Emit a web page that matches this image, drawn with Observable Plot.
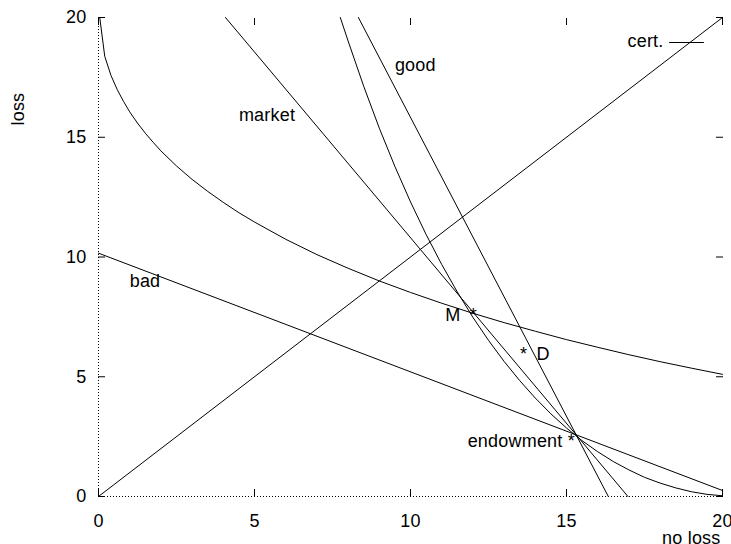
<!DOCTYPE html>
<html>
<head>
<meta charset="utf-8">
<script src="https://cdn.jsdelivr.net/npm/d3@7"></script>
<script src="https://cdn.jsdelivr.net/npm/@observablehq/plot@0.6"></script>
<style>
  body { margin: 0; background: #fff; }
  #chart svg { background: #fff; }
</style>
</head>
<body>
<div id="chart"></div>
<script>
// ---- data ----
const xTicks = [0, 5, 10, 15, 20];
const yTicks = [0, 5, 10, 15, 20];

// straight lines (end points)
const certX = [0, 20],         certY = [0, 20];
const badX = [0, 20],          badY = [10.16, 0.25];
const marketX = [4.07, 16.97], marketY = [20, 0];
const goodX = [8.33, 16.34],   goodY = [20, 0];

// indifference curve through M
const indifMX = [0.04, 0.2, 0.4, 0.6, 0.8, 1, 1.25, 1.5, 1.75, 2, 2.5, 3, 3.5, 4, 4.5, 5, 6, 7, 8, 9, 10, 11, 12, 13, 14, 15, 16, 17, 18, 19, 20];
const indifMY = [20.0, 18.38, 17.58, 16.99, 16.50, 16.06, 15.59, 15.17, 14.79, 14.43, 13.80, 13.24, 12.74, 12.28, 11.85, 11.46, 10.74, 10.10, 9.53, 9.00, 8.52, 8.07, 7.65, 7.26, 6.90, 6.55, 6.23, 5.92, 5.63, 5.36, 5.10];

// curve through the endowment
const indifEX = [7.75, 8, 8.5, 9, 9.5, 10, 10.5, 11, 11.5, 12, 12.5, 13, 13.5, 14, 14.5, 15, 15.5, 16, 16.5, 17, 17.5, 18, 18.5, 19, 19.5, 20];
const indifEY = [20.0, 19.02, 17.13, 15.38, 13.78, 12.30, 10.94, 9.69, 8.54, 7.48, 6.52, 5.64, 4.84, 4.11, 3.45, 2.86, 2.33, 1.87, 1.46, 1.11, 0.80, 0.56, 0.36, 0.20, 0.09, 0.03];

// annotations
const labelText  = ["market", "good", "bad", "M\u2002*", "*\u2002D", "endowment *"];
const labelX     = [4.5, 9.5, 1.0, 12.13, 13.51, 15.27];
const labelY     = [15.90, 18.02, 8.98, 7.56, 5.95, 2.30];
const labelAlign = ["start", "start", "start", "end", "start", "end"];

const keyLabel = "cert.";
const xLabel = "no loss";
const yLabel = "loss";

// ---- build tables ----
const series = [
  {name: "cert.", xs: certX, ys: certY},
  {name: "bad", xs: badX, ys: badY},
  {name: "market", xs: marketX, ys: marketY},
  {name: "good", xs: goodX, ys: goodY},
  {name: "indifM", xs: indifMX, ys: indifMY},
  {name: "indifE", xs: indifEX, ys: indifEY}
];
const lineData = series.flatMap(s => s.xs.map((x, i) => ({name: s.name, x, y: s.ys[i]})));
const labels = labelText.map((t, i) => ({text: t, x: labelX[i], y: labelY[i], align: labelAlign[i]}));

const font = "'Liberation Sans', Arial, Helvetica, sans-serif";
const blankFmt = () => "";
const lineShape = {draw(ctx, l) { ctx.moveTo(0, 0); ctx.lineTo(0, -l); }};

const chart = Plot.plot({
  width: 731,
  height: 544,
  marginLeft: 98,
  marginRight: 9,
  marginTop: 17,
  marginBottom: 48,
  style: {fontFamily: font, fontSize: "18px", letterSpacing: "0.2px", background: "#fff", color: "#000"},
  x: {domain: [0, 20], label: null},
  y: {domain: [0, 20], label: null},
  marks: [
    // dotted zero axes
    Plot.ruleX([0], {stroke: "#000", strokeDasharray: "1,2"}),
    Plot.ruleY([0], {stroke: "#000", strokeDasharray: "1,2"}),
    // axes with inward ticks
    Plot.axisX(xTicks, {anchor: "bottom", tickSize: -7, tickPadding: 25, label: null}),
    Plot.axisX(xTicks, {anchor: "top", tickSize: -7, tickFormat: blankFmt, label: null}),
    Plot.axisY(yTicks, {anchor: "left", tickSize: -7, tickPadding: 19, label: null}),
    Plot.axisY(yTicks, {anchor: "right", tickSize: -7, tickFormat: blankFmt, label: null}),
    // curves and lines
    Plot.line(lineData, {x: "x", y: "y", z: "name", stroke: "#000", strokeWidth: 1}),
    // annotations
    Plot.text(labels.filter(d => d.align === "start"), {x: "x", y: "y", text: "text", textAnchor: "start", lineAnchor: "middle", fill: "#000"}),
    Plot.text(labels.filter(d => d.align === "end"), {x: "x", y: "y", text: "text", textAnchor: "end", lineAnchor: "middle", fill: "#000"}),
    // key
    Plot.text([keyLabel], {frameAnchor: "top-right", text: d => d, textAnchor: "end", lineAnchor: "middle", dx: -59, dy: 24, fill: "#000"}),
    Plot.vector([keyLabel], {frameAnchor: "top-right", length: 34, rotate: 90, anchor: "start", shape: lineShape, dx: -53, dy: 25, stroke: "#000", strokeWidth: 1}),
    // axis titles
    Plot.text([xLabel], {frameAnchor: "bottom-right", text: d => d, textAnchor: "end", lineAnchor: "middle", dx: -2, dy: 41.5, fill: "#000"}),
    Plot.text([yLabel], {frameAnchor: "left", text: d => d, rotate: -90, lineAnchor: "middle", dx: -80.5, dy: -131.5, fill: "#000"})
  ]
});
document.getElementById("chart").appendChild(chart);
</script>
</body>
</html>
